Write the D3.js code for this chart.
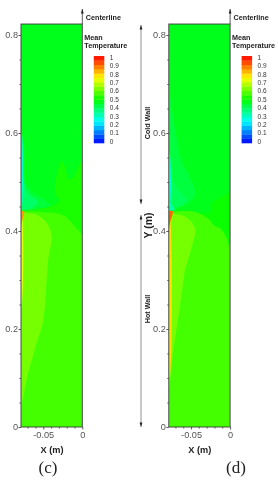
<!DOCTYPE html>
<html>
<head>
<meta charset="utf-8">
<script src="https://cdn.jsdelivr.net/npm/d3@7"></script>
<style>
html, body { margin: 0; padding: 0; background: #fff; }
svg { display: block; filter: blur(0.4px); }
text { font-family: "Liberation Sans", Arial, sans-serif; }
</style>
</head>
<body>
<script>
// axis ticks (metres)
var y_major = [0, 0.2, 0.4, 0.6, 0.8];
var y_minor = [0.05, 0.1, 0.15, 0.25, 0.3, 0.35, 0.45, 0.5, 0.55, 0.65, 0.7, 0.75];
var x_major = [-0.05, 0];
var x_minor = [-0.07, -0.06, -0.04, -0.03, -0.02, -0.01];
var legend_labels = [1, 0.9, 0.8, 0.7, 0.6, 0.5, 0.4, 0.3, 0.2, 0.1, 0];
var legend_bands = [0, 0.05, 0.1, 0.15, 0.2, 0.25, 0.3, 0.35, 0.4, 0.45, 0.5, 0.55, 0.6, 0.65, 0.7, 0.75, 0.8, 0.85, 0.9, 0.95];

var top_level = 0.475;

// contour edges, [x (m), y (m)]
var c_green = [[0, 0.549], [-0.0158, 0.504], [-0.0256, 0.543], [-0.035, 0.477], [-0.0295, 0.465], [-0.0359, 0.453], [-0.0606, 0.444], [-0.0785, 0.441]];
var c_warm = [[0, 0.392], [-0.0094, 0.409], [-0.0244, 0.432], [-0.0542, 0.439], [-0.0785, 0.441]];
var c_hot = [[-0.0785, 0.437], [-0.0585, 0.433], [-0.0436, 0.412], [-0.0392, 0.388], [-0.0436, 0.341], [-0.05, 0.218], [-0.0585, 0.171], [-0.0692, 0.11], [-0.0777, 0.045], [-0.0785, 0.04]];
var c_cool = [[-0.0785, 0.565], [-0.0747, 0.514], [-0.067, 0.484], [-0.0478, 0.464], [-0.0414, 0.453], [-0.0606, 0.444], [-0.0785, 0.443]];
var c_cold = [[-0.0785, 0.524], [-0.0692, 0.477], [-0.0564, 0.46], [-0.0649, 0.446], [-0.0785, 0.443]];
var c_wall_cold = [[-0.0785, 0.6], [-0.0777, 0.6], [-0.0777, 0.443], [-0.0785, 0.443]];
var c_wall_hot = [[-0.0785, 0.441], [-0.0777, 0.441], [-0.0777, 0.25], [-0.0785, 0.25]];
var c_corner = [[-0.0785, 0.441], [-0.0745, 0.44], [-0.0772, 0.42], [-0.0785, 0.41]];

var d_green = [[0, 0.48], [-0.0233, 0.456], [-0.0255, 0.439], [-0.0704, 0.441], [-0.0785, 0.441]];
var d_warm = [[-0.0785, 0.439], [-0.0447, 0.439], [-0.0255, 0.422], [-0.0212, 0.412], [-0.0127, 0.405], [-0.0063, 0.392], [0, 0.365]];
var d_hot = [[-0.0785, 0.436], [-0.0576, 0.429], [-0.0447, 0.405], [-0.049, 0.368], [-0.0576, 0.32], [-0.0596, 0.3], [-0.0667, 0.218], [-0.0733, 0.151], [-0.0776, 0.082], [-0.0785, 0.075]];
var d_cool = [[-0.0785, 0.698], [-0.0708, 0.613], [-0.0605, 0.535], [-0.0541, 0.518], [-0.0447, 0.477], [-0.0541, 0.456], [-0.0776, 0.443], [-0.0785, 0.443]];
var d_cold = [[-0.0785, 0.518], [-0.066, 0.484], [-0.0554, 0.463], [-0.0724, 0.445], [-0.0785, 0.443]];
var d_colder = [[-0.0785, 0.463], [-0.0746, 0.453], [-0.0708, 0.444], [-0.0785, 0.441]];
var d_wall_cold = [[-0.0785, 0.56], [-0.0777, 0.56], [-0.0777, 0.443], [-0.0785, 0.443]];
var d_wall_hot = [[-0.0785, 0.441], [-0.0777, 0.441], [-0.0777, 0.1], [-0.0785, 0.1]];
var d_corner = [[-0.0785, 0.441], [-0.0735, 0.44], [-0.0765, 0.42], [-0.0785, 0.405]];

// corners of the plot that close a region along its walls
var close_from_right = [[-0.0785, 0], [0, 0]];
var close_from_left = [[0, 0], [-0.0785, 0]];

// edge, level, closing points, painted back to front
var c_regions = [
    [c_green, 0.525, close_from_right],
    [c_warm, 0.567, close_from_right],
    [c_hot, 0.615, []],
    [c_cool, 0.445, []],
    [c_cold, 0.4, []],
    [c_wall_cold, 0.3, []],
    [c_wall_hot, 0.72, []],
    [c_corner, 0.85, []]
];
var d_regions = [
    [d_green, 0.51, close_from_right],
    [d_warm, 0.567, close_from_left],
    [d_hot, 0.615, []],
    [d_cool, 0.44, []],
    [d_cold, 0.415, []],
    [d_colder, 0.33, []],
    [d_wall_cold, 0.25, []],
    [d_wall_hot, 0.78, []],
    [d_corner, 0.9, []]
];

var width = 278, height = 480;

var svg = d3.select("body").append("svg")
    .attr("width", width)
    .attr("height", height);

var colorScale = d3.scaleLinear()
    .domain([0, 0.25, 0.5, 0.75, 1])
    .range(["#0000ff", "#00ffff", "#00ff00", "#ffff00", "#ff0000"]);

var y = d3.scaleLinear().domain([0, 0.8]).range([427, 35]);

draw_panel("c", 21, c_regions, "(c)", 48);
draw_panel("d", 168.8, d_regions, "(d)", 236);
draw_side_arrows();

function draw_panel(id, left, regions, tag, tag_x) {
    var x = d3.scaleLinear().domain([-0.0785, 0]).range([left, left + 61.3]);
    var right = x(0);
    var top = y(0.8224);
    var g = svg.append("g");

    svg.append("clipPath")
        .attr("id", "clip_" + id)
        .append("rect")
        .attr("x", left)
        .attr("y", top)
        .attr("width", right - left)
        .attr("height", y(0) - top);

    var line = d3.line()
        .x(function (d) { return x(d[0]); })
        .y(function (d) { return y(d[1]); })
        .curve(d3.curveCatmullRom.alpha(0.5));

    var contours = g.append("g").attr("clip-path", "url(#clip_" + id + ")");

    contours.append("rect")
        .attr("x", left)
        .attr("y", top)
        .attr("width", right - left)
        .attr("height", y(0) - top)
        .attr("fill", colorScale(top_level));

    contours.selectAll(".region")
        .data(regions)
        .enter()
        .append("path")
        .attr("class", "region")
        .attr("d", function (d) {
            var closing = d[2].map(function (p) { return "L" + x(p[0]) + "," + y(p[1]); }).join("");
            return line(d[0]) + closing + "Z";
        })
        .attr("fill", function (d) { return colorScale(d[1]); });

    g.append("rect")
        .attr("x", left)
        .attr("y", top)
        .attr("width", right - left)
        .attr("height", y(0) - top)
        .attr("fill", "none")
        .attr("stroke", "#3a3a3a")
        .attr("stroke-width", 0.9);

    // y axis
    var yAxis = g.append("g")
        .attr("transform", "translate(" + left + ",0)")
        .call(d3.axisLeft(y).tickValues(y_major).tickSize(2.5).tickPadding(0.5)
            .tickFormat(function (d) { return d === 0 ? "0" : d3.format(".1f")(d); }));
    style_axis(yAxis);
    var yMinor = g.append("g")
        .attr("transform", "translate(" + left + ",0)")
        .call(d3.axisLeft(y).tickValues(y_minor).tickSize(1.5).tickFormat(""));
    style_axis(yMinor);

    // x axis
    var xAxis = g.append("g")
        .attr("transform", "translate(0," + y(0) + ")")
        .call(d3.axisBottom(x).tickValues(x_major).tickSize(2.5).tickPadding(1.5)
            .tickFormat(function (d) { return d === 0 ? "0" : d; }));
    style_axis(xAxis);
    var xMinor = g.append("g")
        .attr("transform", "translate(0," + y(0) + ")")
        .call(d3.axisBottom(x).tickValues(x_minor).tickSize(1.5).tickFormat(""));
    style_axis(xMinor);

    g.append("text")
        .attr("x", left + 31)
        .attr("y", 452.5)
        .attr("text-anchor", "middle")
        .style("font-size", "9.2px")
        .style("font-weight", "700")
        .style("fill", "#222")
        .text("X (m)");

    g.append("text")
        .attr("x", tag_x)
        .attr("y", 473)
        .attr("text-anchor", "middle")
        .style("font-family", "'Liberation Serif', serif")
        .style("font-size", "17px")
        .style("fill", "#222")
        .text(tag);

    // centerline arrow
    arrow_line(g, right, top, 9, "#333");
    g.append("text")
        .attr("x", right + 3.5)
        .attr("y", 20)
        .style("font-size", "7.2px")
        .style("font-weight", "700")
        .style("fill", "#222")
        .text("Centerline");

    add_legend(g, right);
}

function style_axis(axis) {
    axis.select(".domain").remove();
    axis.selectAll("line").attr("stroke", "#333").attr("stroke-width", 0.8);
    axis.selectAll("text")
        .style("font-size", "9.2px")
        .style("fill", "#555");
}

function arrow_line(g, x_pos, y_from, y_to, color) {
    g.append("line")
        .attr("x1", x_pos).attr("x2", x_pos)
        .attr("y1", y_from).attr("y2", y_to)
        .attr("stroke", color)
        .attr("stroke-width", 0.8);
    var dir = y_to < y_from ? 1 : -1;
    g.append("path")
        .attr("d", "M" + x_pos + "," + y_to + "L" + (x_pos - 1.4) + "," + (y_to + dir * 4.5) + "L" + (x_pos + 1.4) + "," + (y_to + dir * 4.5) + "Z")
        .attr("fill", "#222");
}

function add_legend(g, right) {
    g.append("text")
        .attr("x", right + 2)
        .attr("y", 40)
        .style("font-size", "7.2px")
        .style("font-weight", "700")
        .style("fill", "#222")
        .text("Mean");
    g.append("text")
        .attr("x", right + 2)
        .attr("y", 47.5)
        .style("font-size", "7.2px")
        .style("font-weight", "700")
        .style("fill", "#222")
        .text("Temperature");

    var scale = d3.scaleLinear().domain([0, 1]).range([143, 56]);
    var bar_x = right + 11.5;

    g.selectAll(".band")
        .data(legend_bands)
        .enter()
        .append("rect")
        .attr("class", "band")
        .attr("x", bar_x)
        .attr("width", 10.5)
        .attr("y", function (d) { return scale(d + 0.05); })
        .attr("height", function (d) { return scale(d) - scale(d + 0.05) + 0.3; })
        .attr("fill", function (d) { return colorScale(d + 0.025); });

    g.selectAll(".band_label")
        .data(legend_labels)
        .enter()
        .append("text")
        .attr("class", "band_label")
        .attr("x", bar_x + 16)
        .attr("y", function (d) { return scale(d * 0.96 + 0.02) + 2.3; })
        .style("font-size", "6.5px")
        .style("fill", "#333")
        .text(function (d) { return d; });
}

function draw_side_arrows() {
    var g = svg.append("g");
    var arrow_x = 141;
    arrow_line(g, arrow_x, 120, 25, "#777");
    arrow_line(g, arrow_x, 120, 204, "#777");
    arrow_line(g, arrow_x, 320, 215, "#777");
    arrow_line(g, arrow_x, 320, 427, "#777");

    side_text(g, 150, 123, "Cold Wall", "7.2px");
    side_text(g, 150, 309, "Hot Wall", "7.2px");
    side_text(g, 152, 225.5, "Y (m)", "10.5px");
}

function side_text(g, x_pos, y_pos, label, size) {
    g.append("text")
        .attr("transform", "translate(" + x_pos + "," + y_pos + ") rotate(-90)")
        .attr("text-anchor", "middle")
        .style("font-size", size)
        .style("font-weight", "700")
        .style("fill", "#222")
        .text(label);
}
</script>
</body>
</html>
